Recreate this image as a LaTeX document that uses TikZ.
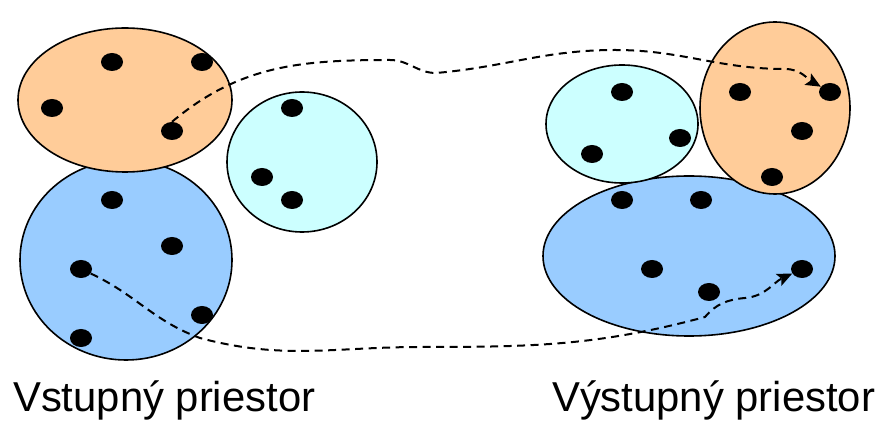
\documentclass[tikz,border=0pt]{standalone}
\usepackage{fontspec}
\setmainfont{Liberation Sans}
\usetikzlibrary{arrows.meta,shapes.geometric}
\definecolor{orng}{HTML}{FFCC99}
\definecolor{blu}{HTML}{99CCFF}
\definecolor{cyn}{HTML}{CCFFFF}
\begin{document}
\begin{tikzpicture}[x=1pt,y=1pt,
  region/.style={ellipse, draw=black, line width=1.6pt, inner sep=0pt},
  dot/.style={ellipse, fill=black, minimum width=22pt, minimum height=18pt, inner sep=0pt},
  flow/.style={dash pattern=on 8pt off 5.5pt, line width=2pt, -{Stealth[length=15pt,width=13pt,inset=3pt]}},
  caption/.style={anchor=base west, inner sep=0pt, font=\fontsize{41.8}{50}\selectfont}]
\useasboundingbox (0,0) rectangle (882,420);
% left regions
\node[region, fill=blu, minimum width=212pt, minimum height=200pt] (lb) at (126,160) {};
\node[region, fill=orng, minimum width=214pt, minimum height=144pt] (lo) at (125,320) {};
\node[region, fill=cyn, minimum width=150pt, minimum height=140pt] (lc) at (302,258) {};
% right regions
\node[region, fill=blu, minimum width=292pt, minimum height=160pt] (rb) at (689,164) {};
\node[region, fill=cyn, minimum width=152pt, minimum height=118pt] (rc) at (622,296) {};
\node[region, fill=orng, minimum width=150pt, minimum height=172pt] (ro) at (775,312) {};
% dots left orange
\node[dot] (lo1) at (112,358) {};
\node[dot] (lo2) at (202,358) {};
\node[dot] (lo3) at (52,312) {};
\node[dot] (lo4) at (172,289) {};
% dots left blue
\node[dot] (lb1) at (112,220) {};
\node[dot] (lb2) at (172,174) {};
\node[dot] (lb3) at (81,151) {};
\node[dot] (lb4) at (202,105) {};
\node[dot] (lb5) at (81,82) {};
% dots left cyan
\node[dot] (lc1) at (292,312) {};
\node[dot] (lc2) at (262,243) {};
\node[dot] (lc3) at (292,220) {};
% dots right cyan
\node[dot] (rc1) at (622,328) {};
\node[dot] (rc2) at (680,282) {};
\node[dot] (rc3) at (592,266) {};
% dots right orange
\node[dot] (ro1) at (740,328) {};
\node[dot] (ro2) at (830,328) {};
\node[dot] (ro3) at (802,289) {};
\node[dot] (ro4) at (772,243) {};
% dots right blue
\node[dot] (rb1) at (622,220) {};
\node[dot] (rb2) at (701,220) {};
\node[dot] (rb3) at (652,151) {};
\node[dot] (rb4) at (802,151) {};
\node[dot] (rb5) at (709,128) {};
% route coordinates
\coordinate (k1) at (390,360);
\coordinate (k2) at (436,347);
\coordinate (k3) at (615,370);
\coordinate (k4) at (785,351);
\coordinate (m1) at (200,82);
\coordinate (m2) at (420,73);
\coordinate (m3) at (705,103);
\coordinate (m4) at (745,122);
% dashed mappings
\draw[flow] (lo4.north) to[out=40,in=180] (k1) to[out=0,in=180] (k2)
  to[out=5,in=180] (k3) to[out=0,in=180] (k4) to[out=0,in=150] (ro2);
\draw[flow] (lb3) to[out=-25,in=160] (m1) to[out=-15,in=180] (m2)
  to[out=0,in=195] (m3) to[out=50,in=185] (m4) to[out=5,in=205] (rb4);
% captions
\node[caption] (cin) at (13,9) {Vstupný priestor};
\node[caption] (cout) at (552,9) {Výstupný priestor};
\end{tikzpicture}
\end{document}
